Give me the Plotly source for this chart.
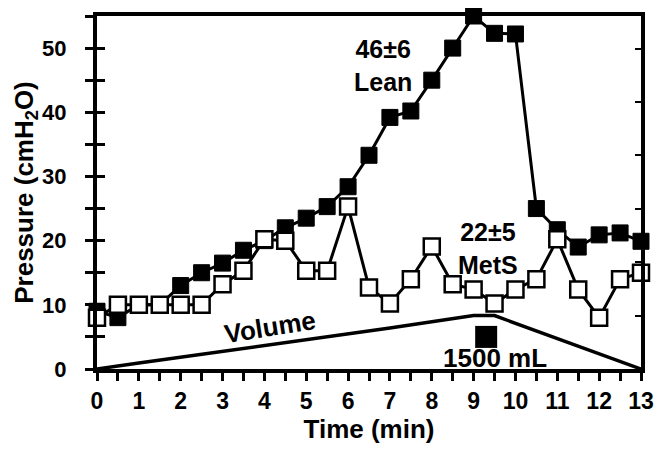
import plotly.graph_objects as go

# time points (min)
time_min = [0, 0.5, 1, 1.5, 2, 2.5, 3, 3.5, 4, 4.5, 5, 5.5, 6, 6.5,
            7, 7.5, 8, 8.5, 9, 9.5, 10, 10.5, 11, 11.5, 12, 12.5, 13]

# airway pressure, cmH2O
lean = [9, 8, 10, 10, 13, 15, 16.5, 18.5, 20, 22, 23.5, 25.3, 28.4, 33.3,
        39.2, 40.2, 45, 50, 55, 52.3, 52.2, 25, 21.7, 19, 20.9, 21.2, 19.9]
mets = [8, 10, 10, 10, 10, 10, 13.2, 15.3, 20.2, 20, 15.3, 15.3, 25.3, 12.7,
        10.2, 14, 19.1, 13.2, 12.4, 10.2, 12.4, 14, 20.2, 12.4, 8, 14, 15]

# insufflated volume, mL
vol_time = [0, 1, 7, 9, 9.5, 13]
vol_ml = [0, 170, 1150, 1500, 1500, 0]

x_ticks = list(range(0, 14))
y_ticks = [0, 10, 20, 30, 40, 50]

FONT = "Liberation Sans, Arial, sans-serif"

fig = go.Figure()

fig.add_trace(go.Scatter(x=vol_time, y=vol_ml, yaxis="y2", mode="lines",
                         line=dict(color="black", width=3.5), showlegend=False))

fig.add_trace(go.Scatter(x=time_min, y=lean, mode="lines+markers",
                         line=dict(color="black", width=3),
                         marker=dict(symbol="square", size=16, color="black",
                                     line=dict(color="black", width=1)),
                         showlegend=False, cliponaxis=False))

fig.add_trace(go.Scatter(x=time_min, y=mets, mode="lines+markers",
                         line=dict(color="black", width=3),
                         marker=dict(symbol="square", size=16, color="white",
                                     line=dict(color="black", width=2.5)),
                         showlegend=False, cliponaxis=False))

# filled square key next to the volume label
fig.add_trace(go.Scatter(x=[9.3], y=[5], mode="markers",
                         marker=dict(symbol="square", size=22, color="black"),
                         showlegend=False))

# dummy trace so the inside-tick overlay axis is drawn
fig.add_trace(go.Scatter(x=[0], y=[0], yaxis="y3", mode="markers",
                         marker=dict(opacity=0), showlegend=False, hoverinfo="skip"))

# page body has an 8px margin, so the figure is a bit smaller than the window
fig.update_layout(
    width=658, height=444,
    margin=dict(l=89, r=25, t=4, b=83),
    plot_bgcolor="white", paper_bgcolor="white",
    font=dict(family=FONT, color="black"),
    xaxis=dict(range=[0, 13], tickvals=x_ticks, ticks="outside", ticklen=8,
               tickwidth=3, tickcolor="black",
               minor=dict(dtick=0.5, ticks="outside", ticklen=8, tickwidth=3, tickcolor="black"),
               showline=True, linewidth=4, linecolor="black", mirror=True,
               showgrid=False, zeroline=False,
               tickfont=dict(size=23, family=FONT, weight="bold"),
               title=dict(text="Time (min)", font=dict(size=26, weight="bold"), standoff=2)),
    yaxis=dict(range=[0, 55], tickvals=y_ticks, ticks="outside", ticklen=8,
               tickwidth=3, tickcolor="black",
               minor=dict(dtick=5, ticks="outside", ticklen=8, tickwidth=3, tickcolor="black"),
               showline=True, linewidth=4, linecolor="black", mirror=True,
               showgrid=False, zeroline=False, ticklabelstandoff=14,
               tickfont=dict(size=22, family=FONT, weight="bold"),
               title=dict(text="Pressure (cmH<sub>2</sub>O)", font=dict(size=26, weight="bold"), standoff=0)),
    yaxis2=dict(range=[0, 9917], dtick=1500, overlaying="y", side="right",
                ticks="inside", ticklen=6, tickwidth=2, tickcolor="black",
                showticklabels=False, showgrid=False, zeroline=False, showline=False),
    yaxis3=dict(range=[0, 55], dtick=5, overlaying="y", side="left",
                ticks="inside", ticklen=8, tickwidth=3, tickcolor="black",
                showticklabels=False, showgrid=False, zeroline=False, showline=False),
)

notes = [
    (6.84, 47.3, "46±6<br>Lean", 0, 25),
    (9.35, 18.8, "22±5<br>MetS", 0, 25),
    (4.14, 6.5, "Volume", -9, 26),
    (9.5, 1.7, "1500 mL", 0, 26),
]
for x, y, txt, ang, sz in notes:
    fig.add_annotation(x=x, y=y, text=txt, showarrow=False, textangle=ang,
                       font=dict(size=sz, family=FONT, color="black", weight="bold"))

fig.write_html("out.html")
